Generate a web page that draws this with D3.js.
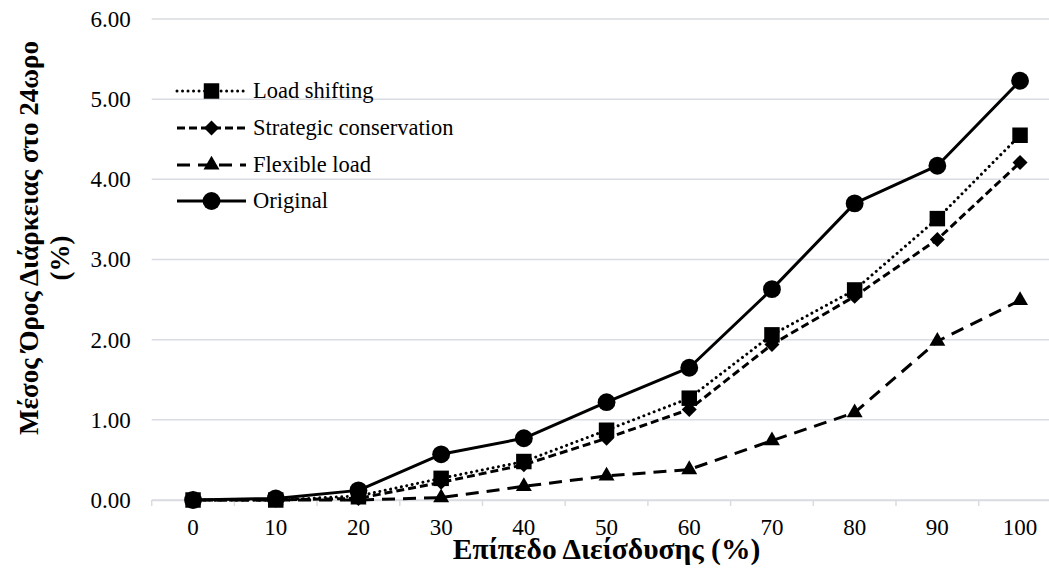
<!DOCTYPE html>
<html>
<head>
<meta charset="utf-8">
<script src="https://cdn.jsdelivr.net/npm/d3@7"></script>
<style>
    html, body { margin: 0; padding: 0; background: #fff; }
    svg { display: block; }
    svg text { font-family: "Liberation Serif", "Times New Roman", serif; }
</style>
</head>
<body>
<div id="chart-div"></div>
<script>
// data
const categories = ['0', '10', '20', '30', '40', '50', '60', '70', '80', '90', '100'];
const loadShifting = [0.00, 0.00, 0.05, 0.27, 0.48, 0.87, 1.27, 2.06, 2.62, 3.51, 4.55];
const strategicConservation = [0.00, 0.00, 0.02, 0.22, 0.44, 0.77, 1.13, 1.94, 2.54, 3.25, 4.21];
const flexibleLoad = [0.00, 0.00, 0.00, 0.03, 0.17, 0.30, 0.38, 0.74, 1.09, 1.98, 2.49];
const original = [0.00, 0.02, 0.12, 0.57, 0.77, 1.22, 1.65, 2.63, 3.70, 4.17, 5.23];
const seriesNames = ['Load shifting', 'Strategic conservation', 'Flexible load', 'Original'];
const yTicks = [0, 1, 2, 3, 4, 5, 6];
const xTitle = 'Επίπεδο Διείσδυσης (%)';
const yTitleLines = ['Μέσος Όρος Διάρκειας στο 24ωρο', '(%)'];

const FONT = 'Liberation Serif';

window.Chart = window.Chart || {};

Chart.init = function() {
    Chart.setup.initConsts();
    Chart.setup.initSvg();
    Chart.draw.grid();
    Chart.draw.axes();
    Chart.draw.series();
    Chart.draw.legend();
    Chart.draw.titles();
};

Chart.setup = {
    initConsts: function() {
        Chart.width = 1049;
        Chart.height = 576;

        Chart.left = 151.7;
        Chart.band = 82.7;
        Chart.gridColor = '#d9dce1';

        Chart.tickFont = 23;
        Chart.legendFont = 22.5;

        Chart.series = [
            { name: seriesNames[0], values: loadShifting, dash: '0.01 5.5', cap: 'round', symbol: 'square' },
            { name: seriesNames[1], values: strategicConservation, dash: '8 4', cap: 'butt', symbol: 'diamond' },
            { name: seriesNames[2], values: flexibleLoad, dash: '13 8', cap: 'butt', symbol: 'triangle' },
            { name: seriesNames[3], values: original, dash: null, cap: 'butt', symbol: 'circle' }
        ];
    },

    initSvg: function() {
        Chart.svg = d3.select('#chart-div')
                      .append('svg')
                       .attr('width', Chart.width)
                       .attr('height', Chart.height)
                       .attr('font-family', FONT);

        Chart.x = d3.scaleBand()
                    .domain(categories)
                    .range([Chart.left, Chart.left + Chart.band * categories.length]);
        Chart.y = d3.scaleLinear()
                    .domain([0, 6])
                    .range([500, 19]);
    }
};

Chart.helpers = {
    symbolPath: function(kind) {
        if (kind === 'square') return d3.symbol().type(d3.symbolSquare).size(240)();
        if (kind === 'diamond') return d3.symbol().type(d3.symbolSquare).size(112)();
        if (kind === 'triangle') return d3.symbol().type(d3.symbolTriangle).size(110)();
        return d3.symbol().type(d3.symbolCircle).size(250)();
    },

    drawMarker: function(g, kind, cx, cy) {
        let p = g.append('path')
                 .attr('d', Chart.helpers.symbolPath(kind))
                 .attr('fill', '#000');
        if (kind === 'diamond') {
            p.attr('transform', 'translate(' + cx + ',' + cy + ') rotate(45)');
        } else {
            p.attr('transform', 'translate(' + cx + ',' + cy + ')');
        }
    },

    mid: function(c) {
        return Chart.x(c) + Chart.x.bandwidth() / 2;
    }
};

Chart.draw = {
    grid: function() {
        Chart.svg.append('g')
                 .selectAll('line')
                 .data(yTicks)
                 .join('line')
                  .attr('x1', Chart.left)
                  .attr('x2', Chart.x.range()[1])
                  .attr('y1', d => Chart.y(d))
                  .attr('y2', d => Chart.y(d))
                  .attr('stroke', Chart.gridColor)
                  .attr('stroke-width', 1.5);
    },

    axes: function() {
        // y tick labels only, no axis line
        const yAxis = d3.axisLeft(Chart.y)
                        .tickValues(yTicks)
                        .tickFormat(d3.format('.2f'))
                        .tickSize(0)
                        .tickPadding(21);
        const gy = Chart.svg.append('g')
                            .attr('transform', 'translate(' + Chart.left + ',0)')
                            .call(yAxis)
                            .attr('font-family', FONT);
        gy.select('.domain').remove();
        gy.selectAll('text')
          .attr('font-size', Chart.tickFont)
          .attr('fill', '#000');

        // x axis: labels centred on bands, ticks at band edges
        const xAxis = d3.axisBottom(Chart.x)
                        .tickSize(0)
                        .tickPadding(19);
        const gx = Chart.svg.append('g')
                            .attr('transform', 'translate(0,' + Chart.y(0) + ')')
                            .call(xAxis)
                            .attr('font-family', FONT);
        gx.select('.domain').attr('stroke', Chart.gridColor).attr('stroke-width', 1.5);
        gx.selectAll('text')
          .attr('font-size', Chart.tickFont)
          .attr('fill', '#000');

        const edges = categories.map(c => Chart.x(c)).concat([Chart.x.range()[1]]);
        gx.selectAll('line.edge')
          .data(edges)
          .join('line')
           .attr('class', 'edge')
           .attr('x1', d => d).attr('x2', d => d)
           .attr('y1', 0).attr('y2', 6)
           .attr('stroke', Chart.gridColor)
           .attr('stroke-width', 1.5);
    },

    series: function() {
        const line = d3.line()
                       .x((d, i) => Chart.helpers.mid(categories[i]))
                       .y(d => Chart.y(d));

        Chart.series.forEach(function(s) {
            const g = Chart.svg.append('g');
            g.append('path')
             .attr('d', line(s.values))
             .attr('fill', 'none')
             .attr('stroke', '#000')
             .attr('stroke-width', 3)
             .attr('stroke-linecap', s.cap)
             .attr('stroke-linejoin', 'round')
             .attr('stroke-dasharray', s.dash);

            s.values.forEach(function(v, i) {
                Chart.helpers.drawMarker(g, s.symbol, Chart.helpers.mid(categories[i]), Chart.y(v));
            });
        });
    },

    legend: function() {
        const lg = Chart.svg.append('g');
        const rowY = [91, 128, 165, 201];

        Chart.series.forEach(function(s, i) {
            const y = rowY[i];
            lg.append('line')
              .attr('x1', 177).attr('x2', 246)
              .attr('y1', y).attr('y2', y)
              .attr('stroke', '#000')
              .attr('stroke-width', 3)
              .attr('stroke-linecap', s.cap)
              .attr('stroke-dasharray', s.dash);
            Chart.helpers.drawMarker(lg, s.symbol, 211.5, y);
            lg.append('text')
              .attr('x', 253)
              .attr('y', y)
              .attr('dy', '0.33em')
              .attr('font-family', FONT)
              .attr('font-size', Chart.legendFont)
              .attr('fill', '#000')
              .text(s.name);
        });
    },

    titles: function() {
        const plotMid = (Chart.x.range()[0] + Chart.x.range()[1]) / 2;

        Chart.svg.append('text')
                 .attr('x', plotMid)
                 .attr('y', 559)
                 .attr('text-anchor', 'middle')
                 .attr('font-family', FONT)
                 .attr('font-size', 29.5)
                 .attr('font-weight', 'bold')
                 .attr('fill', '#000')
                 .text(xTitle);

        // the two title lines sit at slightly different heights in the picture
        const centres = [238, 258];
        const baselines = [38, 69];
        yTitleLines.forEach(function(t, i) {
            Chart.svg.append('text')
                     .attr('transform', 'translate(' + baselines[i] + ',' + centres[i] + ') rotate(-90)')
                     .attr('text-anchor', 'middle')
                     .attr('font-family', FONT)
                     .attr('font-size', 27)
                     .attr('font-weight', 'bold')
                     .attr('fill', '#000')
                     .text(t);
        });
    }
};

document.addEventListener('DOMContentLoaded', Chart.init);
</script>
</body>
</html>
